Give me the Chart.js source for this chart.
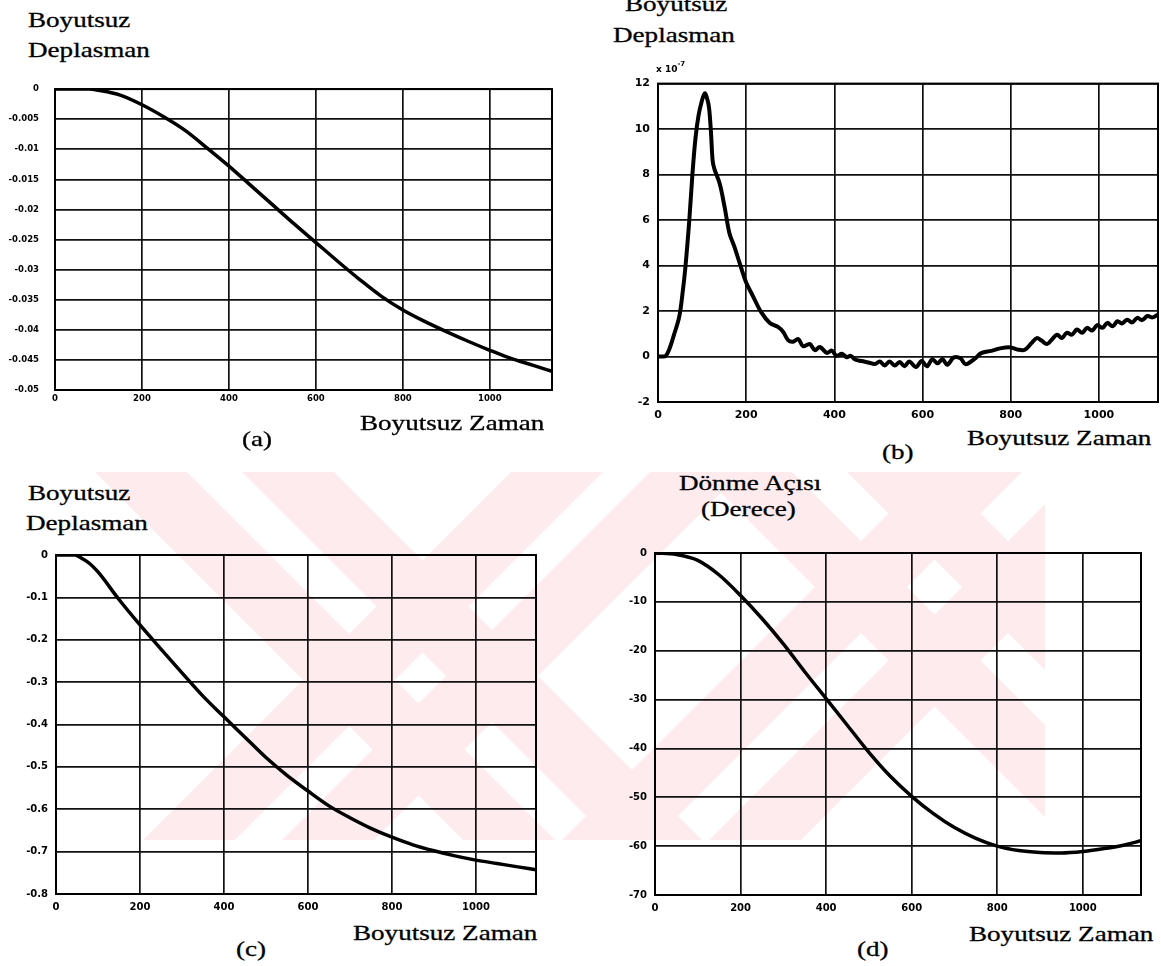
<!DOCTYPE html>
<html>
<head>
<meta charset="utf-8">
<script src="https://cdn.jsdelivr.net/npm/chart.js@4.4.1/dist/chart.umd.min.js"></script>
<style>
    html, body { margin: 0; padding: 0; background: #fff; width: 1161px; height: 966px; overflow: hidden; }
    #mark { position: absolute; left: 0; top: 0; }
    .panel { position: absolute; }
    .lbl {
        position: absolute;
        font-family: "Liberation Serif", "Times New Roman", serif;
        font-size: 21px;
        line-height: 21px;
        white-space: nowrap;
        color: #000;
        -webkit-text-stroke: 0.3px #000;
        transform: scaleX(1.29);
        transform-origin: 0 0;
    }
    .mult { position: absolute; font: bold 9px "DejaVu Sans"; color: #000; white-space: nowrap; }
    .mult sup { font-size: 7px; position: relative; top: -2px; }
</style>
</head>
<body>

<!-- faint watermark behind the lower plots -->
<svg id="mark" width="1161" height="966"></svg>

<div class="panel" id="panelA"><canvas id="chartA"></canvas></div>
<div class="panel" id="panelB"><canvas id="chartB"></canvas></div>
<div class="panel" id="panelC"><canvas id="chartC"></canvas></div>
<div class="panel" id="panelD"><canvas id="chartD"></canvas></div>

<!-- (a) -->
<div class="lbl" style="left:28px; top:10px;">Boyutsuz</div>
<div class="lbl" style="left:28px; top:40px;">Deplasman</div>
<div class="lbl" style="left:360px; top:413px;">Boyutsuz Zaman</div>
<div class="lbl" style="left:242px; top:429px;">(a)</div>
<!-- (b) -->
<div class="lbl" style="left:625px; top:-6px;">Boyutsuz</div>
<div class="lbl" style="left:613px; top:25px;">Deplasman</div>
<div class="mult" style="left:656px; top:62px;">x 10<sup>-7</sup></div>
<div class="lbl" style="left:967px; top:428px;">Boyutsuz Zaman</div>
<div class="lbl" style="left:882px; top:442px;">(b)</div>
<!-- (c) -->
<div class="lbl" style="left:28px; top:483px;">Boyutsuz</div>
<div class="lbl" style="left:26px; top:513px;">Deplasman</div>
<div class="lbl" style="left:353px; top:923px;">Boyutsuz Zaman</div>
<div class="lbl" style="left:236px; top:939px;">(c)</div>
<!-- (d) -->
<div class="lbl" style="left:679px; top:473px;">Dönme Açısı</div>
<div class="lbl" style="left:701px; top:499px;">(Derece)</div>
<div class="lbl" style="left:969px; top:924px;">Boyutsuz Zaman</div>
<div class="lbl" style="left:857px; top:939px;">(d)</div>

<script>
// shared x ticks (Boyutsuz Zaman)
const xTicks = [0, 200, 400, 600, 800, 1000];

// (a) Boyutsuz Deplasman
const timeA = [0, 40, 80, 100, 150, 200, 250, 300, 350, 400, 450, 500, 550, 600, 650, 700, 750, 800, 850, 900, 950, 1000, 1050, 1100, 1143];
const dispA = [0, 0, 0, -0.0002, -0.0010, -0.0026, -0.0046, -0.0069, -0.0098, -0.0128, -0.0160, -0.0192, -0.0224, -0.0255, -0.0286, -0.0316, -0.0344, -0.0367, -0.0386, -0.0403, -0.0419, -0.0434, -0.0448, -0.0459, -0.0469];
const yTicksA = [0, -0.005, -0.01, -0.015, -0.02, -0.025, -0.03, -0.035, -0.04, -0.045, -0.05];

// (b) Boyutsuz Deplasman, x 10^-7
const timeB = [0, 10, 17, 25, 36, 48, 55, 62, 71, 78, 85, 92, 99, 106, 112, 116, 120, 124, 128, 140,
    151, 162, 173, 185, 200, 215, 234, 253, 272, 284, 295, 306, 318, 329, 344, 356, 367, 383, 394, 405,
    417, 428, 437, 447, 462, 477, 492, 503, 514, 525, 537, 548, 559, 570, 585, 598, 610, 622, 634, 645,
    656, 671, 686, 698, 718, 733, 756, 779, 800, 817, 832, 847, 859, 870, 882, 893, 905, 916, 927, 939,
    950, 962, 973, 985, 996, 1008, 1019, 1031, 1042, 1052, 1064, 1075, 1087, 1098, 1110, 1122, 1134];
const dispB = [0, 0, 0.02, 0.29, 0.94, 1.73, 2.67, 3.9, 6.0, 8.0, 9.6, 10.6, 11.2, 11.57, 11.3, 10.9, 9.9, 8.6, 8.24, 7.6,
    6.58, 5.42, 4.84, 4.12, 3.25, 2.67, 1.95, 1.49, 1.3, 1.08, 0.72, 0.65, 0.77, 0.45, 0.55, 0.28, 0.42, 0.16, 0.26, 0.03,
    0.12, -0.03, 0.03, -0.13, -0.2, -0.26, -0.33, -0.22, -0.39, -0.22, -0.4, -0.24, -0.43, -0.22, -0.46, -0.2, -0.43, -0.12, -0.3, -0.12,
    -0.36, -0.04, -0.08, -0.34, -0.1, 0.15, 0.25, 0.37, 0.4, 0.3, 0.3, 0.59, 0.81, 0.7, 0.55, 0.74, 0.96, 0.81, 1.04, 0.96,
    1.19, 1.04, 1.26, 1.14, 1.38, 1.26, 1.48, 1.33, 1.55, 1.45, 1.62, 1.5, 1.7, 1.6, 1.78, 1.72, 1.85];
const yTicksB = [-2, 0, 2, 4, 6, 8, 10, 12];

// (c) Boyutsuz Deplasman
const timeC = [0, 45, 60, 80, 100, 150, 200, 250, 300, 350, 400, 450, 500, 550, 600, 650, 700, 750, 800, 850, 900, 950, 1000, 1050, 1100, 1143];
const dispC = [0, 0, -0.007, -0.02, -0.04, -0.105, -0.165, -0.222, -0.278, -0.333, -0.382, -0.430, -0.478, -0.52, -0.557, -0.592, -0.62, -0.645, -0.666, -0.684, -0.698, -0.71, -0.72, -0.728, -0.736, -0.743];
const yTicksC = [0, -0.1, -0.2, -0.3, -0.4, -0.5, -0.6, -0.7, -0.8];

// (d) Dönme Açısı (Derece)
const timeD = [0, 50, 100, 150, 200, 250, 300, 350, 400, 450, 500, 550, 600, 650, 700, 750, 800, 850, 900, 950, 1000, 1050, 1100, 1136];
const angleD = [0, -0.3, -1.5, -4.5, -8.7, -13.4, -18.6, -24.3, -29.8, -35.3, -40.8, -45.7, -49.8, -53.3, -56.2, -58.4, -60.0, -60.9, -61.3, -61.4, -61.1, -60.5, -59.7, -58.9];
const yTicksD = [0, -10, -20, -30, -40, -50, -60, -70];

// watermark stripes (decoration only): top-edge x of "\" and "/" bands
const markTop = 472, markBottom = 840, markLeft = 95, markRight = 1045, bandW = 92;
const backBands = [95, 242, 700, 847];
const fwdBands = [511, 650, 930, 1077];

(function drawMark() {
    const svg = document.getElementById('mark');
    const h = markBottom - markTop;
    let html = '<defs><clipPath id="mclip"><rect x="' + markLeft + '" y="' + markTop + '" width="' + (markRight - markLeft) + '" height="' + h + '"/></clipPath></defs><g clip-path="url(#mclip)" fill="#fdebee">';
    backBands.forEach(x0 => {
        html += '<polygon points="' + [x0, markTop, x0 + bandW, markTop, x0 + bandW + h, markBottom, x0 + h, markBottom].join(' ') + '"/>';
    });
    fwdBands.forEach(x0 => {
        html += '<polygon points="' + [x0, markTop, x0 + bandW, markTop, x0 + bandW - h, markBottom, x0 - h, markBottom].join(' ') + '"/>';
    });
    svg.innerHTML = html + '</g>';
})();

// box around the plot area
const frame = {
    id: 'frame',
    afterDraw(chart) {
        const { ctx, chartArea: c } = chart;
        ctx.save();
        ctx.strokeStyle = '#000';
        ctx.lineWidth = 2;
        ctx.strokeRect(c.left, c.top, c.right - c.left, c.bottom - c.top);
        ctx.restore();
    }
};

function drawPanel(cfg) {
    const box = document.getElementById(cfg.panel);
    const padTop = 10, padRight = 3, xAxisH = 24;
    const yAxisW = cfg.plotLeft - cfg.boxLeft;
    box.style.left = cfg.boxLeft + 'px';
    box.style.top = (cfg.plotTop - padTop) + 'px';
    box.style.width = (cfg.plotRight - cfg.boxLeft + padRight) + 'px';
    box.style.height = (cfg.plotBottom - cfg.plotTop + padTop + xAxisH) + 'px';

    const points = cfg.xs.map((x, i) => ({ x: x, y: cfg.ys[i] }));
    const tickFont = { family: 'DejaVu Sans', weight: 'bold', size: cfg.fontSize };
    const gridStyle = { color: '#111', lineWidth: 1.7, drawTicks: false };
    const yLo = Math.min(...cfg.yTicks), yHi = Math.max(...cfg.yTicks);

    new Chart(document.getElementById(cfg.canvas), {
        type: 'line',
        data: {
            datasets: [{
                data: points,
                borderColor: '#000',
                borderWidth: cfg.lineWidth,
                pointRadius: 0,
                fill: false,
                tension: cfg.tension,
                cubicInterpolationMode: cfg.mono ? 'monotone' : 'default'
            }]
        },
        options: {
            responsive: true,
            maintainAspectRatio: false,
            animation: false,
            layout: { padding: { top: padTop, right: padRight, left: 0, bottom: 0 } },
            plugins: { legend: { display: false }, tooltip: { enabled: false } },
            scales: {
                x: {
                    type: 'linear',
                    min: 0,
                    max: cfg.xMax,
                    grid: gridStyle,
                    border: { display: false },
                    afterBuildTicks: (axis) => { axis.ticks = xTicks.map(v => ({ value: v })); },
                    afterFit: (axis) => { axis.height = xAxisH; },
                    ticks: { font: tickFont, color: '#000', padding: cfg.xPad, maxRotation: 0, callback: (v) => String(v) }
                },
                y: {
                    type: 'linear',
                    min: yLo,
                    max: yHi,
                    grid: gridStyle,
                    border: { display: false },
                    afterBuildTicks: (axis) => { axis.ticks = cfg.yTicks.map(v => ({ value: v })); },
                    afterFit: (axis) => { axis.width = yAxisW; },
                    ticks: { font: tickFont, color: '#000', padding: cfg.yPad, callback: (v) => String(v) }
                }
            }
        },
        plugins: [frame]
    });
}

drawPanel({ panel: 'panelA', canvas: 'chartA', xs: timeA, ys: dispA, yTicks: yTicksA, xMax: 1143,
    boxLeft: 0, plotLeft: 55, plotRight: 552, plotTop: 78, plotBottom: 390,
    fontSize: 8.5, xPad: 4, yPad: 16, lineWidth: 3.5, tension: 0.4, mono: true });

drawPanel({ panel: 'panelB', canvas: 'chartB', xs: timeB, ys: dispB, yTicks: yTicksB, xMax: 1134,
    boxLeft: 600, plotLeft: 658, plotRight: 1158, plotTop: 79, plotBottom: 402,
    fontSize: 11, xPad: 7, yPad: 8, lineWidth: 4, tension: 0.35, mono: false });

drawPanel({ panel: 'panelC', canvas: 'chartC', xs: timeC, ys: dispC, yTicks: yTicksC, xMax: 1143,
    boxLeft: 0, plotLeft: 56, plotRight: 536, plotTop: 551, plotBottom: 894,
    fontSize: 10, xPad: 7, yPad: 8, lineWidth: 3.5, tension: 0.4, mono: true });

drawPanel({ panel: 'panelD', canvas: 'chartD', xs: timeD, ys: angleD, yTicks: yTicksD, xMax: 1136,
    boxLeft: 600, plotLeft: 655, plotRight: 1141, plotTop: 549, plotBottom: 895,
    fontSize: 10, xPad: 7, yPad: 8, lineWidth: 3.5, tension: 0.4, mono: true });
</script>
</body>
</html>
